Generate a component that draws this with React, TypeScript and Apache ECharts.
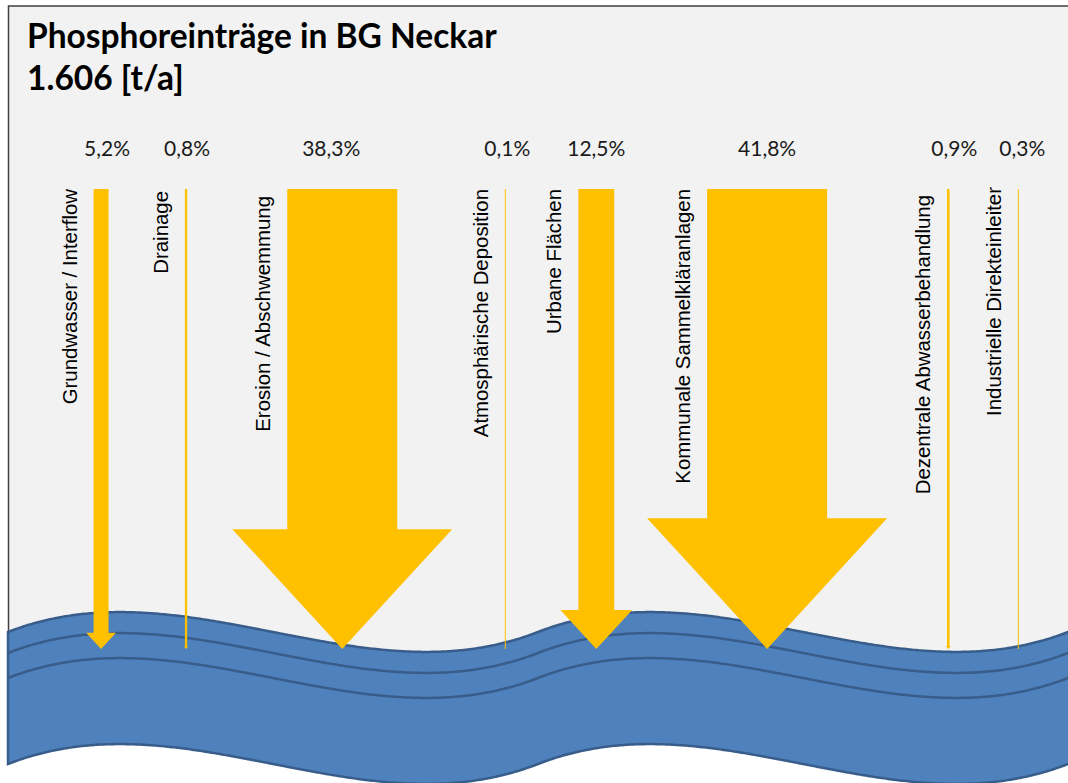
import React, { useEffect, useRef } from "react";
import * as echarts from "echarts";

// ---- data ----
const titleLine1 = "Phosphoreinträge in BG Neckar";
const titleLine2 = "1.606 [t/a]";

const sources = [
  "Grundwasser / Interflow",
  "Drainage",
  "Erosion / Abschwemmung",
  "Atmosphärische Deposition",
  "Urbane Flächen",
  "Kommunale Sammelkläranlagen",
  "Dezentrale Abwasserbehandlung",
  "Industrielle Direkteinleiter",
];
const shares = [5.2, 0.8, 38.3, 0.1, 12.5, 41.8, 0.9, 0.3];

// ---- layout (axis units / pixel nudges, not data) ----
const slots = [35.2, 64.8, 119.2, 176.0, 207.7, 267.2, 330.3, 354.7];
const pctLabelNudge = [6, 1, -11, 2, 0, 0, 6, 4];
const nameTopNudge = [0, 2, 7, 0, 0, 0, 6, -2];

const W = 1068;
const H = 783;
const ARROW_TOP = 189;
const ARROW_TIP = 649;

// Office "double wave" outline: two cubic S-curves
const waveLeft = 8;
const waveSeg = 530;
const waveMid = 632;
const waveK = 69;
function waveY(x: number): number {
  const u = (x - waveLeft) / waveSeg;
  const t = u - Math.floor(u);
  return waveMid + 3 * waveK * t * (1 - t) * (2 * t - 1);
}
function waveLine(offset: number): number[][] {
  const pts: number[][] = [];
  for (let x = waveLeft; x <= W + 6; x += 2) pts.push([x, waveY(x) + offset]);
  return pts;
}

export default function App() {
  const ref = useRef<HTMLDivElement>(null);

  useEffect(() => {
    if (!ref.current) return;
    const chart = echarts.init(ref.current, null, { renderer: "svg" });

    const top = waveLine(0);
    const bottom = waveLine(132).reverse();
    const waveStroke = "#385D8A";

    const option: any = {
      animation: false,
      title: {
        text: titleLine1 + "\n" + titleLine2,
        left: 27,
        top: 14,
        padding: 0,
        textStyle: {
          fontFamily: "Lato",
          fontWeight: "bold",
          fontSize: 33.5,
          lineHeight: 42,
          color: "#000000",
        },
      },
      grid: { left: 0, right: 0, top: ARROW_TOP, bottom: H - ARROW_TIP },
      xAxis: { type: "value", min: 0, max: 372, show: false },
      yAxis: { type: "value", min: 0, max: 1, show: false },
      graphic: [
        {
          type: "rect",
          z: 0,
          shape: { x: 8.5, y: 6, width: 1100, height: 700 },
          style: { fill: "#F2F2F2", stroke: "#404040", lineWidth: 1.5 },
        },
        {
          type: "polygon",
          z: 1,
          shape: { points: top.concat(bottom) },
          style: { fill: "#4F81BD", stroke: waveStroke, lineWidth: 2.5 },
        },
        {
          type: "polyline",
          z: 1,
          shape: { points: waveLine(21) },
          style: { fill: null, stroke: waveStroke, lineWidth: 2.5 },
        },
        {
          type: "polyline",
          z: 1,
          shape: { points: waveLine(46) },
          style: { fill: null, stroke: waveStroke, lineWidth: 2.5 },
        },
      ],
      series: [
        {
          type: "custom",
          z: 10,
          data: shares.map((p, i) => [slots[i], p]),
          renderItem: (params: any, api: any) => {
            const i = params.dataIndex;
            const slot = api.value(0);
            const pct = api.value(1);
            const a = api.coord([slot, 1]);
            const b = api.coord([slot, 0]);
            const cx = a[0];
            const w = Math.max(api.size([pct, 0])[0], 1);
            const hh = w * 1.09;
            const yT = a[1];
            const yB = b[1];
            const pts = [
              [cx - w / 2, yT],
              [cx + w / 2, yT],
              [cx + w / 2, yB - hh],
              [cx + w, yB - hh],
              [cx, yB],
              [cx - w, yB - hh],
              [cx - w / 2, yB - hh],
            ];
            const label = pct.toFixed(1).replace(".", ",") + "%";
            return {
              type: "group",
              children: [
                { type: "polygon", shape: { points: pts }, style: { fill: "#FFC000" } },
                {
                  type: "text",
                  x: cx + pctLabelNudge[i],
                  y: 147,
                  style: {
                    text: label,
                    fill: "#1A1A1A",
                    fontFamily: "Lato",
                    fontSize: 21,
                    align: "center",
                    verticalAlign: "middle",
                  },
                },
                {
                  type: "text",
                  x: cx - w / 2 - 24,
                  y: yT + nameTopNudge[i],
                  rotation: Math.PI / 2,
                  style: {
                    text: sources[i],
                    fill: "#000000",
                    fontFamily: "'Liberation Sans', Arial, sans-serif",
                    fontSize: 20.4,
                    align: "right",
                    verticalAlign: "middle",
                  },
                },
              ],
            };
          },
        },
      ],
    };

    chart.setOption(option);
    return () => chart.dispose();
  }, []);

  return (
    <div
      ref={ref}
      style={{ position: "absolute", left: 0, top: 0, width: W, height: H }}
    />
  );
}
